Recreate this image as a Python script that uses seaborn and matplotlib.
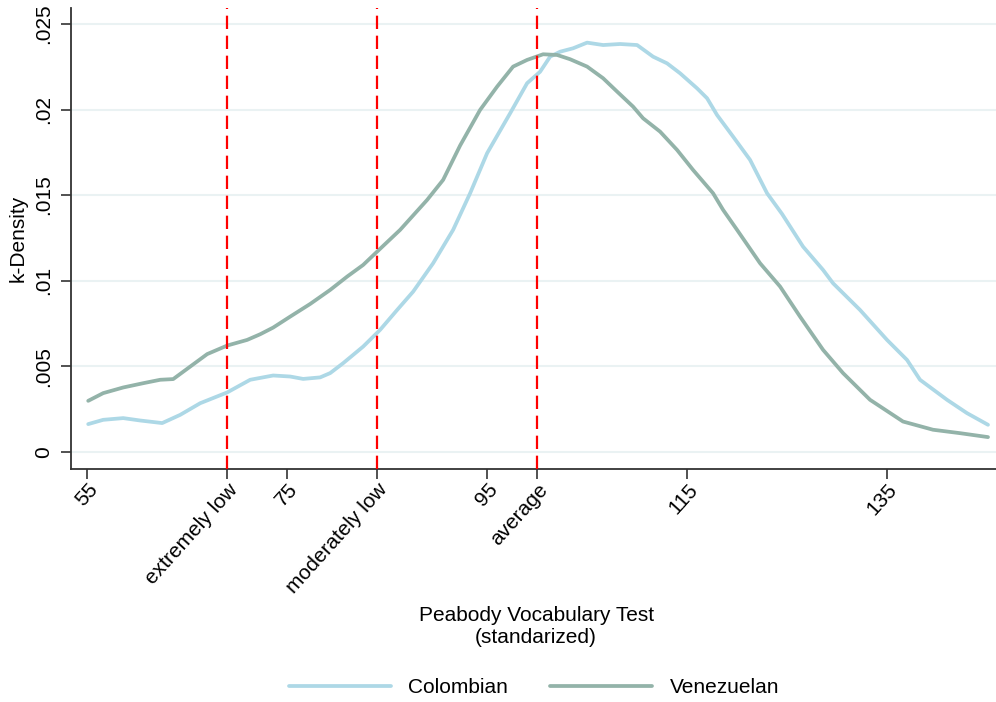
import matplotlib
matplotlib.use("Agg")
import matplotlib.pyplot as plt
import seaborn as sns
import pandas as pd

# Kernel density estimates of standardized Peabody scores
col_score = [55.1, 56.6, 58.6, 60.3, 62.5, 64.3, 66.3, 69.0, 71.3, 73.6, 75.3, 76.6,
             78.3, 79.3, 80.6, 82.6, 84.3, 86.0, 87.6, 89.6, 91.6, 93.3, 95.0, 97.3,
             99.0, 100.3, 101.3, 102.3, 103.6, 105.0, 106.6, 108.3, 110.0, 111.6,
             113.0, 114.3, 116.0, 117.0, 118.0, 119.6, 121.3, 123.0, 124.5, 126.6,
             128.6, 129.6, 132.3, 135.0, 137.0, 138.3, 141.0, 143.0, 145.1]
col_density = [0.00162, 0.00187, 0.00197, 0.00183, 0.00168, 0.00216, 0.00284, 0.00347,
               0.00421, 0.00446, 0.00440, 0.00426, 0.00435, 0.00460, 0.00518, 0.00615,
               0.00713, 0.00829, 0.00936, 0.01102, 0.01297, 0.01511, 0.01745, 0.01978,
               0.02154, 0.02221, 0.02309, 0.02338, 0.02358, 0.02391, 0.02377, 0.02383,
               0.02377, 0.02309, 0.02270, 0.02212, 0.02124, 0.02066, 0.01968, 0.01842,
               0.01706, 0.01511, 0.01390, 0.01199, 0.01063, 0.00985, 0.00829, 0.00654,
               0.00537, 0.00421, 0.00304, 0.00226, 0.00158]

ven_score = [55.1, 56.6, 58.6, 60.6, 62.3, 63.6, 65.3, 67.0, 69.0, 71.0, 72.3, 73.6,
             75.3, 77.3, 79.3, 81.0, 82.6, 84.0, 86.3, 89.0, 90.6, 92.3, 94.3, 96.0,
             97.6, 99.0, 100.6, 102.0, 103.3, 105.0, 106.6, 108.0, 109.6, 110.6,
             112.3, 114.0, 115.6, 117.6, 118.6, 120.0, 122.3, 124.3, 126.3, 128.6,
             130.6, 133.3, 136.6, 139.6, 142.3, 145.1]
ven_density = [0.00298, 0.00343, 0.00376, 0.00401, 0.00421, 0.00425, 0.00498, 0.00571,
               0.00621, 0.00654, 0.00687, 0.00726, 0.00790, 0.00864, 0.00946, 0.01024,
               0.01092, 0.01170, 0.01297, 0.01472, 0.01589, 0.01790, 0.01998, 0.02134,
               0.02251, 0.02290, 0.02323, 0.02319, 0.02294, 0.02251, 0.02183, 0.02105,
               0.02017, 0.01949, 0.01871, 0.01764, 0.01647, 0.01511, 0.01414, 0.01297,
               0.01102, 0.00966, 0.00790, 0.00596, 0.00460, 0.00304, 0.00177, 0.00129,
               0.00109, 0.00086]

groups = ["Colombian", "Venezuelan"]
group_colors = ["#add8e6", "#93b3a9"]

# Reference cut-offs marked on the score axis
cutoff_values = [69, 84, 100]
cutoff_labels = ["extremely low", "moderately low", "average"]
score_ticks = [55, 75, 95, 115, 135]
density_ticks = [0, 0.005, 0.01, 0.015, 0.02, 0.025]
density_labels = ["0", ".005", ".01", ".015", ".02", ".025"]

df = pd.concat([
    pd.DataFrame({"score": col_score, "density": col_density, "group": groups[0]}),
    pd.DataFrame({"score": ven_score, "density": ven_density, "group": groups[1]}),
], ignore_index=True)

sns.set_theme(style="white")
plt.rcParams["font.family"] = ["Liberation Sans", "DejaVu Sans"]
plt.rcParams["text.color"] = "black"
plt.rcParams["xtick.color"] = "black"
plt.rcParams["ytick.color"] = "black"
plt.rcParams["axes.labelcolor"] = "black"

FS = 15

fig = plt.figure(figsize=(9.96, 7.02), dpi=100)
ax = fig.add_axes([0.071, 0.332, 0.929, 0.657])

sns.lineplot(data=df, x="score", y="density", hue="group", hue_order=groups,
             palette=group_colors, estimator=None, sort=False, linewidth=2.7,
             ax=ax, legend=True)

for v in cutoff_values:
    ax.axvline(v, color="#ff0000", linewidth=1.6, dashes=(6, 3), zorder=5)

ax.set_xlim(53.35, 145.9)
ax.set_ylim(-0.001, 0.02595)

ax.yaxis.grid(True, color="#eaf2f3", linewidth=1.5)
ax.xaxis.grid(False)
ax.set_axisbelow(True)

xt = score_ticks + cutoff_values
xl = [str(t) for t in score_ticks] + cutoff_labels
order = sorted(range(len(xt)), key=lambda i: xt[i])
ax.set_xticks([xt[i] for i in order])
ax.set_xticklabels([xl[i] for i in order], rotation=48, ha="right",
                   rotation_mode="anchor", fontsize=FS)
ax.set_yticks(density_ticks)
ax.set_yticklabels(density_labels, rotation=90, va="center", fontsize=FS)

ax.tick_params(axis="both", direction="out", length=7, width=1.2, color="#333333",
               left=True, bottom=True)
ax.tick_params(axis="y", pad=6)
ax.tick_params(axis="x", pad=1)

for side in ["top", "right"]:
    ax.spines[side].set_visible(False)
for side in ["left", "bottom"]:
    ax.spines[side].set_color("#333333")
    ax.spines[side].set_linewidth(1.3)

ax.set_xlabel("Peabody Vocabulary Test\n(standarized)", fontsize=FS, linespacing=1.15)
ax.xaxis.set_label_coords(0.503, -0.298)
ax.xaxis.label.set_va("top")
ax.set_ylabel("k-Density", fontsize=FS)
ax.yaxis.set_label_coords(-0.047, 0.5)

handles, labels = ax.get_legend_handles_labels()
ax.legend_.remove()
fig.legend(handles, labels, loc="center", bbox_to_anchor=(0.536, 0.02), ncol=2,
           frameon=False, fontsize=FS, handlelength=4.9, handletextpad=0.85,
           columnspacing=2.0)

fig.savefig("out.png", dpi=100)
